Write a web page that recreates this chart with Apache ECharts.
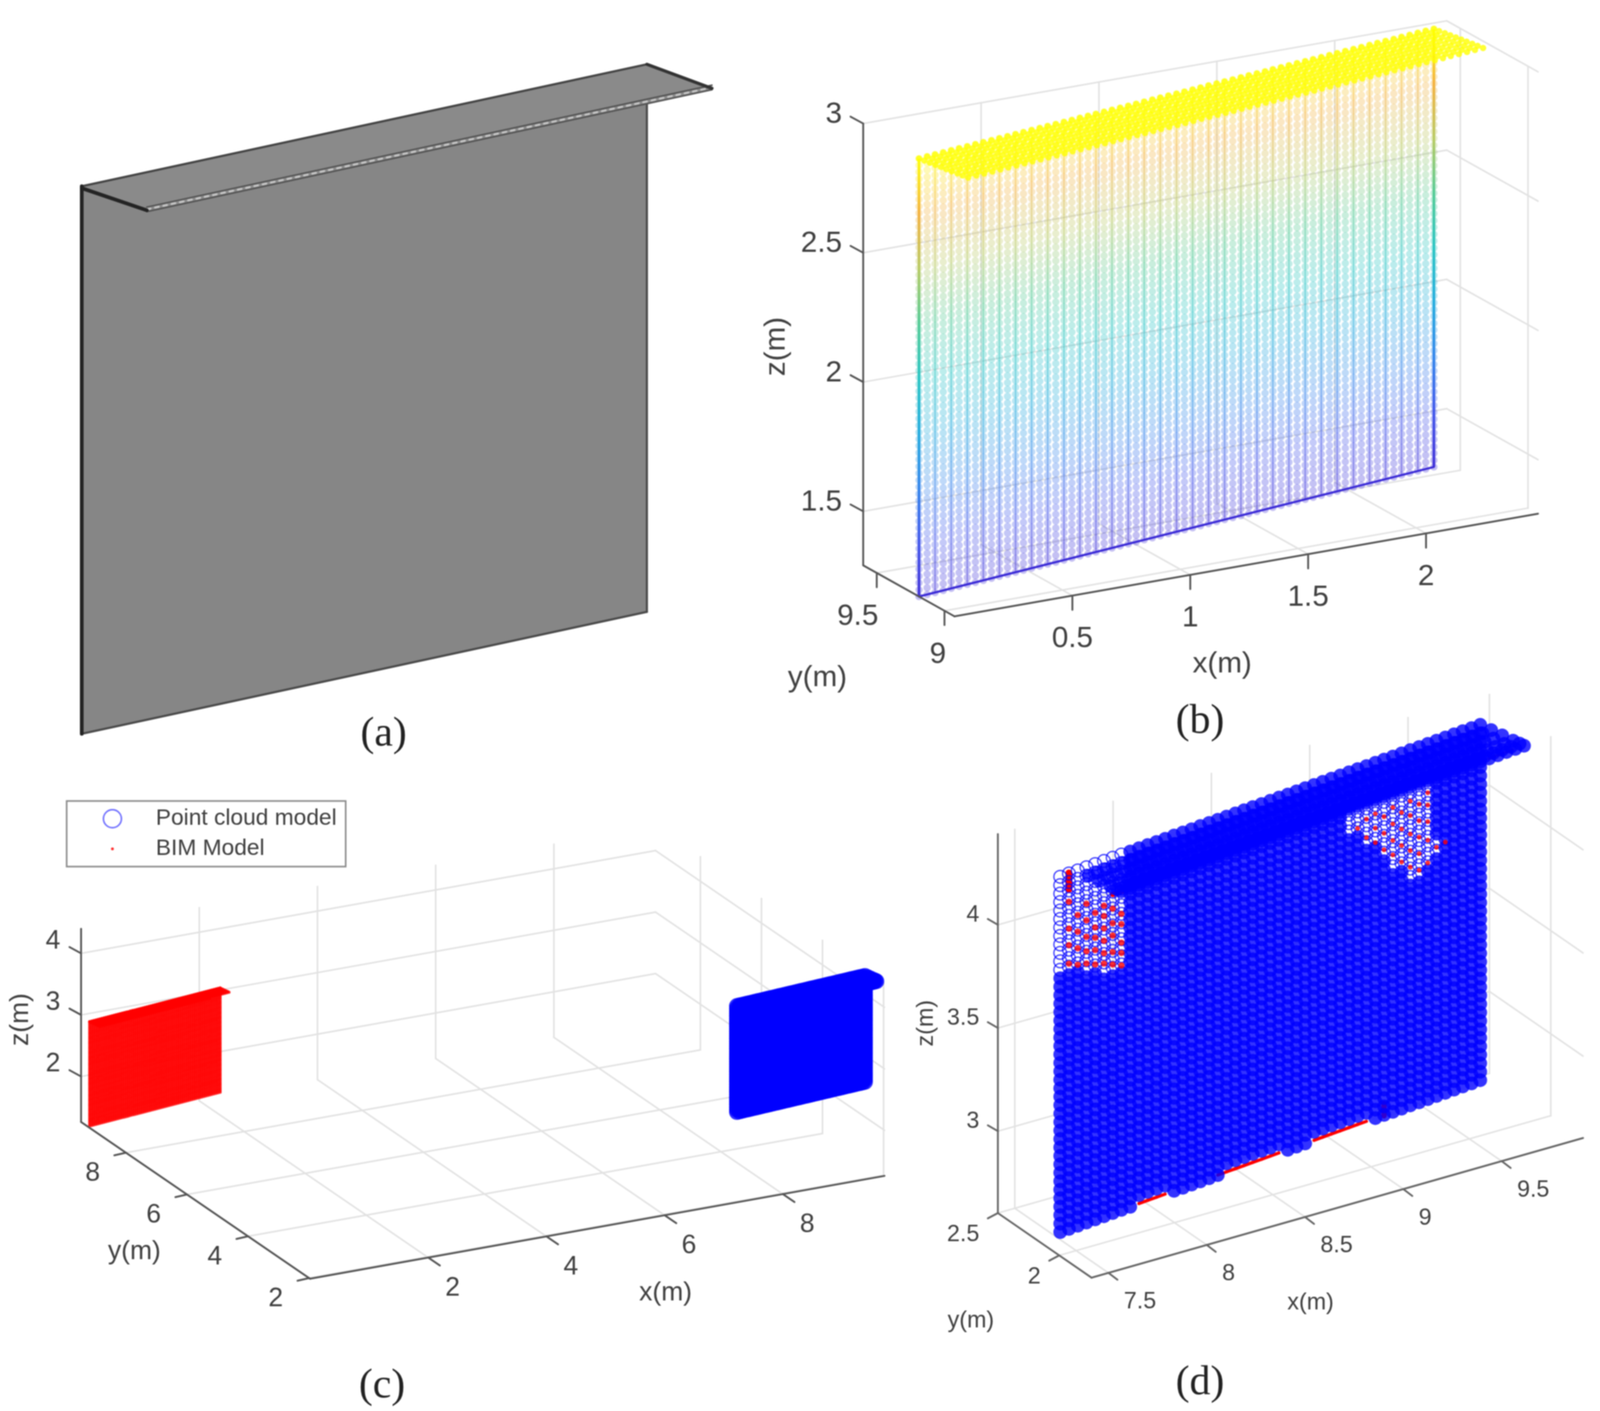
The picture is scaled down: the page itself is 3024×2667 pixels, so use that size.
<!DOCTYPE html>
<html>
<head>
<meta charset="utf-8">
<title>BIM wall and point cloud</title>
<script src="https://cdn.jsdelivr.net/npm/echarts@6/dist/echarts.min.js"></script>
<style>
html, body { margin: 0; padding: 0; background: #fff; }
#chart { width: 3024px; height: 2667px; filter: blur(1.2px); }
</style>
</head>
<body>
<div id="chart"></div>
<script>
// BIM wall mesh, metres
const bimX = [0,.038,.075,.113,.151,.188,.226,.264,.301,.339,.376,.414,.452,.489,.527,.565,.602,.64,.678,.715,.753,.791,.828,.866,.903,.941,.979,1.016,1.054,1.092,1.129,1.167,1.205,1.242,1.28,1.317,1.355,1.393,1.43,1.468,1.506,1.543,1.581,1.619,1.656,1.694,1.731,1.769,1.807,1.844,1.882,1.92,1.957,1.995,2.033,2.07,2.108,2.145,2.183,2.221,2.258,2.296,2.334,2.371,2.409];
const bimY = [9.188,9.194,9.2,9.206,9.213,9.219,9.225,9.231,9.237,9.243,9.249,9.255,9.262,9.268,9.274,9.28,9.286,9.292,9.298,9.304,9.311,9.317,9.323,9.329,9.335,9.341,9.347,9.353,9.36,9.366,9.372,9.378,9.384,9.39,9.396,9.402,9.409,9.415,9.421,9.427,9.433,9.439,9.445,9.451,9.458,9.464,9.47,9.476,9.482,9.488,9.494,9.5,9.507,9.513,9.519,9.525,9.531,9.537,9.543,9.549,9.556,9.562,9.568,9.574,9.58];
const bimZ = [1.291,1.317,1.344,1.37,1.397,1.423,1.45,1.476,1.503,1.529,1.556,1.582,1.609,1.635,1.662,1.688,1.715,1.741,1.768,1.794,1.821,1.847,1.874,1.9,1.926,1.953,1.979,2.006,2.032,2.059,2.085,2.112,2.138,2.165,2.191,2.218,2.244,2.271,2.297,2.324,2.35,2.376,2.403,2.429,2.456,2.482,2.509,2.535,2.562,2.588,2.615,2.641,2.668,2.694,2.721,2.747,2.774,2.8,2.827,2.853,2.88,2.906,2.933,2.959,2.985];
// canopy rows, as offset from the top of the wall
const bimCanopy = [[0,0],[.005,-.03],[.011,-.062],[.016,-.093],[.022,-.124],[.027,-.155],[.032,-.186],[.038,-.217],[.043,-.248],[.0487,-.2785]];

// scanned point cloud mesh, metres
const cloudX = [7.419,7.467,7.515,7.563,7.611,7.659,7.707,7.755,7.803,7.851,7.899,7.947,7.995,8.044,8.092,8.14,8.188,8.236,8.284,8.332,8.38,8.428,8.476,8.524,8.572,8.62,8.668,8.716,8.764,8.812,8.86,8.908,8.956,9.004,9.052,9.1,9.149,9.197,9.245,9.293,9.341,9.389,9.437,9.485,9.533,9.581,9.629,9.677,9.725];
const cloudY = [2,2.006,2.011,2.017,2.023,2.028,2.034,2.04,2.045,2.051,2.057,2.062,2.068,2.074,2.079,2.085,2.091,2.096,2.102,2.108,2.113,2.119,2.125,2.13,2.136,2.142,2.147,2.153,2.159,2.164,2.17,2.176,2.181,2.187,2.193,2.198,2.204,2.21,2.215,2.221,2.227,2.232,2.238,2.244,2.249,2.255,2.261,2.266,2.272];
const cloudZ = [2.715,2.756,2.797,2.838,2.879,2.92,2.961,3.002,3.043,3.084,3.125,3.166,3.207,3.248,3.289,3.33,3.371,3.412,3.453,3.494,3.535,3.576,3.617,3.658,3.699,3.74,3.781,3.822,3.863,3.904,3.945,3.986,4.027,4.068,4.109,4.15,4.191,4.232,4.273,4.314,4.355,4.396,4.437];
const cloudCanopy = [[.012,-.07],[.024,-.14],[.036,-.21],[.044,-.25],[.0487,-.2785]];
// x from, x to, z from, z to
const cloudHoles = [[7.4,7.53,3.97,4.5],[7.53,7.65,3.93,4.5],[7.65,7.785,3.89,4.5],[8.99,9.08,4.13,4.25],[9.08,9.15,4.05,4.25],[9.15,9.22,3.98,4.25],[9.22,9.3,3.9,4.25],[9.3,9.4,3.81,4.25],[9.4,9.47,3.85,4.25],[9.47,9.5,3.89,3.97]];
const cloudNotches = [[7.84,8.02,2.7,2.74],[8.29,8.65,2.7,2.74],[8.81,9.14,2.7,2.74]];
// red BIM points seen through the holes: station index, z
const redLeftHole = [[1,4],[1,4.09],[1,4.17],[1,4.3],[2,3.98],[2,4.06],[2,4.14],[2,4.22],[3,3.97],[3,4.03],[3,4.1],[3,4.18],[3,4.26],[4,3.95],[4,4.02],[4,4.08],[4,4.13],[4,4.2],[5,3.94],[5,3.99],[5,4.05],[5,4.11],[5,4.17],[5,4.22],[6,3.92],[6,3.98],[6,4.06],[6,4.12],[6,4.19],[7,3.9],[7,3.96],[7,4.01],[7,4.1],[7,4.15]];
const redRightHole = [[34,4.15],[35,4.09],[35,4.18],[36,4.05],[36,4.12],[36,4.19],[37,4],[37,4.08],[37,4.16],[38,3.96],[38,4.03],[38,4.11],[38,4.19],[39,3.91],[39,3.99],[39,4.07],[39,4.15],[40,3.87],[40,3.95],[40,4.03],[40,4.12],[40,4.19],[41,3.84],[41,3.92],[41,4],[41,4.08],[41,4.16],[42,3.86],[42,3.97],[42,4.06],[42,4.14],[42,4.2],[43,3.92],[44,3.93]];
// station ranges where the red bottom edge shows
const redBottomRuns = [[9,12],[18,25],[29,35]];
const cloudShiftC = -0.18;

// axis ticks
const xTicksB = [.5,1,1.5,2], yTicksB = [9,9.5], zTicksB = [1.5,2,2.5,3];
const xTicksC = [2,4,6,8], yTicksC = [2,4,6,8], zTicksC = [2,3,4];
const xTicksD = [7.5,8,8.5,9,9.5], yTicksD = [2,2.5], zTicksD = [3,3.5,4];

const parula = ['#3a2ad6','#3a50ea','#2a80ea','#1aa8dc','#20c2c0','#4cc890','#b5c85c','#f3ae38','#ffff00'];
const font = 'Liberation Sans', captionFont = 'Liberation Serif';

// orthographic view of each panel
const viewA = {base:[0,9.188,1.291], at:[154.5,1387], xU:[501,-72], yU:[-354,-145.4], zU:[0,-611]};
const viewB = {base:[0,8.926,1.291], at:[1804,1165], xU:[445.6,-78.4], yU:[-256,-143], zU:[0,-488.7],
    box:{x:[0,2.475], y:[8.926,9.6], z:[1.291,3]}, xt:xTicksB, yt:yTicksB, zt:zTicksB,
    tickX:[0,27], tickY:[0,27], tickZ:[-24,-13]};
const viewC = {base:[0,1.97,1.26], at:[586,2417], xU:[111.7,-20], yU:[-57.7,-39.5], zU:[0,-116.3],
    box:{x:[0,9.72], y:[1.97,9.47], z:[1.26,4.4]}, xt:xTicksC, yt:yTicksC, zt:zTicksC,
    tickX:[22,15], tickY:[-22,5], tickZ:[-22,-12]};
const viewD = {base:[7.414,1.737,2.603], at:[2063,2415], xU:[371.6,-105.6], yU:[-232,-160], zU:[0,-390],
    box:{x:[7.414,9.914], y:[1.737,2.5], z:[2.603,4.44]}, xt:xTicksD, yt:yTicksD, zt:zTicksD,
    tickX:[17,13], tickY:[-19,10], tickZ:[-19,-11]};

function project(v, x, y, z) {
    const dx = x - v.base[0], dy = y - v.base[1], dz = z - v.base[2];
    return [v.at[0] + dx*v.xU[0] + dy*v.yU[0] + dz*v.zU[0],
            v.at[1] + dx*v.xU[1] + dy*v.yU[1] + dz*v.zU[1]];
}
function seg(v, p, q) { return project(v, p[0], p[1], p[2]).concat(project(v, q[0], q[1], q[2])); }

function segments(data, color, width, dash) {
    return {
        type: 'custom', silent: true, animation: false, clip: false, data: data,
        renderItem: (params, api) => {
            const a = api.coord([api.value(0), api.value(1)]), b = api.coord([api.value(2), api.value(3)]);
            return {type: 'line', shape: {x1: a[0], y1: a[1], x2: b[0], y2: b[1]},
                style: {stroke: color, lineWidth: width, lineDash: dash || null, lineCap: 'round'}};
        }
    };
}
function dots(name, data, size, itemStyle) {
    return {type: 'scatter', name: name, silent: true, animation: false, data: data, symbol: 'circle',
        symbolSize: size, itemStyle: itemStyle};
}
function texts(list) {
    return {
        type: 'custom', silent: true, animation: false, clip: false, data: list.map(t => [t.x, t.y]),
        renderItem: (params, api) => {
            const t = list[params.dataIndex], p = api.coord([api.value(0), api.value(1)]);
            return {type: 'text', x: p[0], y: p[1], rotation: t.rot || 0,
                style: {text: t.text, fontFamily: t.family || font, fontSize: t.size, fill: t.color || '#404040',
                    align: t.align || 'center', verticalAlign: 'middle'}};
        }
    };
}
function polygons(faces, fill) {
    return {
        type: 'custom', silent: true, animation: false, clip: false, data: faces.map((f, i) => [i, i]),
        renderItem: (params, api) => ({type: 'polygon',
            shape: {points: faces[params.dataIndex].map(p => api.coord(p))},
            style: {fill: fill}})
    };
}

// box grid, axis lines and ticks of one 3d panel
function boxGrid(v) {
    const b = v.box, out = [];
    v.xt.forEach(t => {
        out.push(seg(v, [t,b.y[0],b.z[0]], [t,b.y[1],b.z[0]]));
        out.push(seg(v, [t,b.y[1],b.z[0]], [t,b.y[1],b.z[1]]));
    });
    v.yt.forEach(t => {
        out.push(seg(v, [b.x[0],t,b.z[0]], [b.x[1],t,b.z[0]]));
        out.push(seg(v, [b.x[1],t,b.z[0]], [b.x[1],t,b.z[1]]));
    });
    v.zt.forEach(t => {
        out.push(seg(v, [b.x[0],b.y[1],t], [b.x[1],b.y[1],t]));
        out.push(seg(v, [b.x[1],b.y[1],t], [b.x[1],b.y[0],t]));
    });
    return out;
}
function boxAxes(v) {
    const b = v.box, out = [
        seg(v, [b.x[0],b.y[1],b.z[0]], [b.x[0],b.y[1],b.z[1]]),
        seg(v, [b.x[0],b.y[0],b.z[0]], [b.x[0],b.y[1],b.z[0]]),
        seg(v, [b.x[0],b.y[0],b.z[0]], [b.x[1],b.y[0],b.z[0]])
    ];
    const tick = (p, d) => { const q = project(v, p[0], p[1], p[2]); out.push([q[0], q[1], q[0]+d[0], q[1]+d[1]]); };
    v.xt.forEach(t => tick([t,b.y[0],b.z[0]], v.tickX));
    v.yt.forEach(t => tick([b.x[0],t,b.z[0]], v.tickY));
    v.zt.forEach(t => tick([b.x[0],b.y[1],t], v.tickZ));
    return out;
}
function tickLabels(v, size, xo, yo, zo) {
    const b = v.box, out = [];
    const add = (p, o, t) => {
        const q = project(v, p[0], p[1], p[2]);
        out.push({x: q[0]+o[0], y: q[1]+o[1], text: String(t), size: size, align: o[2]});
    };
    v.xt.forEach(t => add([t,b.y[0],b.z[0]], xo, t));
    v.yt.forEach(t => add([b.x[0],t,b.z[0]], yo, t));
    v.zt.forEach(t => add([b.x[0],b.y[1],t], zo, t));
    return out;
}

const series = [];

// (a) solid model
const w0 = [bimX[0], bimY[0]], w1 = [bimX[64], bimY[64]], zB = bimZ[0], zT = bimZ[64];
const cv = bimCanopy[9];
const pa = (x, y, z) => project(viewA, x, y, z);
series.push(polygons([[pa(w0[0],w0[1],zB), pa(w1[0],w1[1],zB), pa(w1[0],w1[1],zT), pa(w0[0],w0[1],zT)]], '#868686'));
series.push(segments([seg(viewA, [w0[0],w0[1],zB], [w1[0],w1[1],zB]), seg(viewA, [w1[0],w1[1],zB], [w1[0],w1[1],zT-.1])], '#4a4a4a', 4));
series.push(polygons([[pa(w0[0],w0[1],zT), pa(w1[0],w1[1],zT), pa(w1[0]+cv[0],w1[1]+cv[1],zT-.018), pa(w0[0]+cv[0],w0[1]+cv[1],zT-.018)]], '#8a8a8a'));
series.push(segments([seg(viewA, [w0[0],w0[1],zT], [w1[0],w1[1],zT])], '#444', 4));
series.push(segments([seg(viewA, [w0[0]+cv[0],w0[1]+cv[1],zT-.004], [w1[0]+cv[0],w1[1]+cv[1],zT-.004])], '#555', 3));
series.push(segments([seg(viewA, [w0[0]+cv[0],w0[1]+cv[1],zT-.018], [w1[0]+cv[0],w1[1]+cv[1],zT-.018])], '#555', 3));
series.push(segments([seg(viewA, [w0[0]+cv[0],w0[1]+cv[1],zT-.011], [w1[0]+cv[0],w1[1]+cv[1],zT-.011])], '#c4c4c4', 4, [7,9]));
series.push(segments([seg(viewA, [w0[0],w0[1],zB], [w0[0],w0[1],zT]), seg(viewA, [w0[0],w0[1],zT-.006], [w0[0]+cv[0],w0[1]+cv[1],zT-.014])], '#242424', 7));
series.push(segments([seg(viewA, [w1[0],w1[1],zT], [w1[0]+cv[0],w1[1]+cv[1],zT-.014])], '#333', 6));

// (b) BIM mesh coloured by height
series.push(segments(boxGrid(viewB), '#e2e2e2', 3));
const meshB = [];
bimX.forEach((x, i) => bimZ.forEach(z => {
    const p = project(viewB, x, bimY[i], z);
    meshB.push([p[0], p[1], z]);
}));
const heightIndex = [series.length];
series.push(dots('mesh', meshB, 14, {opacity: .3}));
// the darker mesh columns
const columnStations = bimX.map((x, i) => i).filter(i => i % 2 === 0);
series.push({
    type: 'custom', silent: true, animation: false, clip: false, data: columnStations.map(i => {
        const a = project(viewB, bimX[i], bimY[i], zB), b = project(viewB, bimX[i], bimY[i], zT);
        return [a[0], a[1], b[0], b[1], i];
    }),
    renderItem: (params, api) => {
        const a = api.coord([api.value(0), api.value(1)]), b = api.coord([api.value(2), api.value(3)]);
        const i = api.value(4), edge = i === 0 || i === 64;
        return {type: 'line', shape: {x1: a[0], y1: a[1], x2: b[0], y2: b[1]}, style: {
            lineWidth: edge ? 5 : 2.5, opacity: edge ? .95 : .42,
            stroke: new echarts.graphic.LinearGradient(a[0], a[1], b[0], b[1],
                parula.map((c, k) => ({offset: k / 8, color: c})), true)
        }};
    }
});
series.push(segments([seg(viewB, [w0[0],w0[1],zB], [w1[0],w1[1],zB])], '#3a2ad6', 4));
const canopyB = [];
bimCanopy.forEach(o => bimX.forEach((x, i) => {
    const p = project(viewB, x + o[0], bimY[i] + o[1], zT);
    canopyB.push([p[0], p[1]]);
}));
series.push(dots('canopy', canopyB, 12, {color: '#ffff00'}));
series.push(segments(boxAxes(viewB), '#555', 3.5));
series.push(texts(tickLabels(viewB, 56, [0,82,'center'], [3,83,'right'], [-40,-17,'right'])));

// (c) both models, before alignment
series.push(segments(boxGrid(viewC), '#e2e2e2', 3));
const meshC = [];
bimX.forEach((x, i) => bimZ.forEach(z => meshC.push(project(viewC, x, bimY[i], z))));
bimCanopy.forEach(o => bimX.forEach((x, i) => meshC.push(project(viewC, x + o[0], bimY[i] + o[1], zT))));
series.push(dots('BIM Model', meshC, 6, {color: '#ff0000'}));
const cloudC = [];
cloudX.forEach((x, i) => cloudZ.forEach(z => cloudC.push(project(viewC, x + cloudShiftC, cloudY[i], z))));
cloudCanopy.forEach(o => cloudX.forEach((x, i) => { if (i > 1) cloudC.push(project(viewC, x + cloudShiftC + o[0], cloudY[i] + o[1], 4.437)); }));
series.push(dots('Point cloud model', cloudC, 30, {color: '#0000ff'}));
series.push(segments(boxAxes(viewC), '#555', 3.5));
series.push(texts(tickLabels(viewC, 50, [46,58,'center'], [-63,39,'center'], [-53,-23,'center'])));

// (d) aligned models
series.push(segments(boxGrid(viewD), '#e2e2e2', 3));
const inside = (list, x, z) => list.some(h => x >= h[0] && x < h[1] && z >= h[2] && z < h[3]);
const solidD = [], ringsD = [];
cloudX.forEach((x, i) => cloudZ.forEach(z => {
    const p = project(viewD, x, cloudY[i], z);
    if (inside(cloudHoles, x, z)) ringsD.push(p);
    else if (!inside(cloudNotches, x, z)) solidD.push(p);
}));
cloudCanopy.forEach(o => cloudX.forEach((x, i) => { if (i > 1) solidD.push(project(viewD, x + o[0], cloudY[i] + o[1], 4.437)); }));
series.push(dots('cloud d', solidD, 26, {color: '#0000ff'}));
series.push(dots('rings d', ringsD, 24, {color: 'rgba(0,0,0,0)', borderColor: '#0000ff', borderWidth: 2.5, opacity: .75}));
const holePoint = h => project(viewD, cloudX[h[0]], cloudY[h[0]], h[1]);
series.push(dots('red left', redLeftHole.map(holePoint), 12, {color: '#ff0000'}));
series.push(dots('red right', redRightHole.map(holePoint), 9, {color: '#ff0000'}));
// red canopy edge, thick then broken
const edgeSegs = (from, to) => {
    const out = [];
    for (let i = from; i < to; i++) out.push(seg(viewD,
        [cloudX[i] + cv[0], cloudY[i] + cv[1], cloudZ[42]], [cloudX[i+1] + cv[0], cloudY[i+1] + cv[1], cloudZ[42]]));
    return out;
};
series.push(segments(edgeSegs(1, 27), '#ff0000', 10));
series.push(segments(edgeSegs(27, 47), '#ff0000', 5, [12, 7]));
series.push(segments([seg(viewD, [cloudX[1],cloudY[1],4.36], [cloudX[1],cloudY[1],4.44])], '#ff0000', 13));
const bottomSegs = [];
redBottomRuns.forEach(r => {
    for (let i = r[0]; i < r[1]; i++) bottomSegs.push(seg(viewD, [cloudX[i],cloudY[i],cloudZ[0]], [cloudX[i+1],cloudY[i+1],cloudZ[0]]));
});
series.push(segments(bottomSegs, '#ff0000', 6));
series.push(segments([seg(viewD, [cloudX[37],cloudY[37],2.71], [cloudX[37],cloudY[37],2.77])], '#ff0000', 10));
series.push(segments(boxAxes(viewD), '#666', 3.5));
series.push(texts(tickLabels(viewD, 44, [29,55,'left'], [-35,41,'right'], [-35,-18,'right'])));

// axis names and captions
series.push(texts([
    {x: 1468, y: 655, text: 'z(m)', size: 56, rot: Math.PI/2},
    {x: 2310, y: 1256, text: 'x(m)', size: 56},
    {x: 1545, y: 1282, text: 'y(m)', size: 56},
    {x: 39, y: 1927, text: 'z(m)', size: 50, rot: Math.PI/2},
    {x: 1258, y: 2444, text: 'x(m)', size: 50},
    {x: 254, y: 2366, text: 'y(m)', size: 50},
    {x: 1751, y: 1934, text: 'z(m)', size: 44, rot: Math.PI/2},
    {x: 2477, y: 2463, text: 'x(m)', size: 44},
    {x: 1835, y: 2497, text: 'y(m)', size: 44},
    {x: 725, y: 1388, text: '(a)', size: 79, family: captionFont, color: '#222'},
    {x: 2268, y: 1364, text: '(b)', size: 79, family: captionFont, color: '#222'},
    {x: 722, y: 2620, text: '(c)', size: 79, family: captionFont, color: '#222'},
    {x: 2268, y: 2614, text: '(d)', size: 79, family: captionFont, color: '#222'}
]));

const chart = echarts.init(document.getElementById('chart'));
chart.setOption({
    backgroundColor: '#fff',
    animation: false,
    grid: {left: 0, right: 0, top: 0, bottom: 0},
    xAxis: {type: 'value', min: 0, max: 3024, show: false},
    yAxis: {type: 'value', min: 0, max: 2667, inverse: true, show: false},
    visualMap: {show: false, seriesIndex: heightIndex, dimension: 2, min: zB, max: zT, inRange: {color: parula}},
    legend: {
        left: 126, top: 1514, orient: 'vertical', itemGap: 14, itemWidth: 34, itemHeight: 34,
        padding: [12, 17, 12, 68], borderColor: '#8a8a8a', borderWidth: 3, backgroundColor: '#fff',
        selectedMode: false,
        textStyle: {fontFamily: font, fontSize: 43, color: '#404040', padding: [0, 0, 0, 60]},
        data: [
            {name: 'Point cloud model', icon: 'circle', itemStyle: {color: 'transparent', borderColor: '#5050ff', borderWidth: 3}},
            {name: 'BIM Model', icon: 'path://M0 0L0 0M42 50a8 8 0 1 0 16 0a8 8 0 1 0 -16 0M100 100L100 100', itemStyle: {color: '#ff0000', borderWidth: 0}}
        ]
    },
    series: series
});
window.addEventListener('resize', chart.resize);
</script>
</body>
</html>
